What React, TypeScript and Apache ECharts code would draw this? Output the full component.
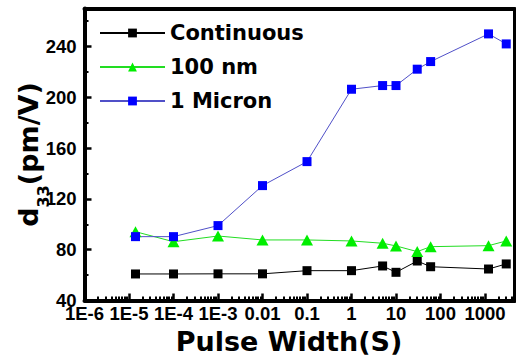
import React, { useEffect, useRef } from 'react';
import * as echarts from 'echarts';

const pulseWidths = [1.4e-5, 1e-4, 1e-3, 0.01, 0.1, 1, 5, 10, 30, 60, 1200, 3000];
const continuous = [60.9, 60.9, 61, 61, 63.5, 63.5, 67.2, 62.2, 71.1, 66.6, 64.8, 68.8];
const nm100 = [94.2, 86.3, 90.8, 87.7, 87.7, 86.9, 85.1, 83, 78.5, 82.4, 83.2, 86.9];
const micron1 = [90.3, 90.3, 99, 130.5, 149.4, 206.4, 209.3, 209.3, 222.2, 228.2, 250, 242.1];

const xTickValues = [1e-6, 1e-5, 1e-4, 1e-3, 0.01, 0.1, 1, 10, 100, 1000];
const xTickLabels = ['1E-6', '1E-5', '1E-4', '1E-3', '0.01', '0.1', '1', '10', '100', '1000'];
const yTickValues = [40, 80, 120, 160, 200, 240];
const yMinorValues = [60, 100, 140, 180, 220, 260];

const X_MIN = 1e-6;
const X_MAX = 4600;
const Y_MIN = 40;
const Y_MAX = 270;

const xMinorValues: number[] = [];
for (let d = -6; d <= 3; d++) {
  for (let m = 2; m <= 9; m++) {
    const v = Number((m * Math.pow(10, d)).toPrecision(6));
    if (v < X_MAX) xMinorValues.push(v);
  }
}

const pair = (ys: number[]) => pulseWidths.map((x, i) => [x, ys[i]]);

const tickFont = { fontFamily: 'Liberation Sans', fontWeight: 'bold' as const, fontSize: 18.5, color: '#000' };
const titleFont = { fontFamily: 'DejaVu Sans', fontWeight: 'bold' as const, color: '#000' };

export default function App() {
  const ref = useRef<HTMLDivElement>(null);
  useEffect(() => {
    document.body.style.margin = '0';
    const chart = echarts.init(ref.current!, null, { renderer: 'svg' });
    chart.setOption({
      animation: false,
      backgroundColor: '#fff',
      grid: { left: 84.5, right: 1.5, top: 8.5, bottom: 62.5, containLabel: false, outerBoundsMode: 'none' },
      legend: {
        orient: 'vertical',
        left: 94,
        top: 17,
        itemWidth: 65,
        itemHeight: 11,
        itemGap: 12,
        data: ['Continuous', '100 nm', '1 Micron'],
        textStyle: { ...titleFont, fontSize: 21, lineHeight: 22 },
      },
      xAxis: [
        {
          type: 'log',
          logBase: 10,
          min: X_MIN,
          max: X_MAX,
          position: 'bottom',
          axisLine: { show: true, lineStyle: { color: '#000', width: 4 } },
          axisTick: { show: true, inside: true, length: 7, lineStyle: { color: '#000', width: 2.5 }, customValues: xTickValues },
          axisLabel: {
            ...tickFont,
            margin: 3,
            customValues: xTickValues,
            formatter: (v: number) => {
              const idx = Math.round(Math.log10(v)) + 6;
              return xTickLabels[idx] ?? '';
            },
          },
          splitLine: { show: false },
          minorTick: { show: false },
          name: 'Pulse Width(S)',
          nameLocation: 'middle',
          nameGap: 27,
          nameMoveOverlap: false,
          nameTextStyle: { ...titleFont, fontSize: 27, padding: [0, 21, 0, 0] },
        },
        {
          type: 'log',
          logBase: 10,
          min: X_MIN,
          max: X_MAX,
          position: 'bottom',
          axisLine: { show: false },
          axisTick: { show: true, inside: true, length: 4, lineStyle: { color: '#000', width: 2 }, customValues: xMinorValues },
          axisLabel: { show: false },
          splitLine: { show: false },
        },
        {
          type: 'value',
          min: 0,
          max: 1,
          position: 'top',
          axisLine: { show: true, lineStyle: { color: '#000', width: 4 } },
          axisTick: { show: false },
          axisLabel: { show: false },
          splitLine: { show: false },
        },
      ],
      yAxis: [
        {
          type: 'value',
          min: Y_MIN,
          max: Y_MAX,
          position: 'left',
          axisLine: { show: true, lineStyle: { color: '#000', width: 4 } },
          axisTick: { show: true, inside: true, length: 7, lineStyle: { color: '#000', width: 2.5 }, customValues: yTickValues },
          axisLabel: { ...tickFont, margin: 8, customValues: yTickValues },
          splitLine: { show: false },
          name: '{a|d}{b|33}{a|(pm/V)}',
          nameLocation: 'middle',
          nameGap: 40,
          nameMoveOverlap: false,
          nameTextStyle: {
            rich: {
              a: { ...titleFont, fontSize: 27, lineHeight: 30, verticalAlign: 'top' },
              b: { ...titleFont, fontSize: 16, lineHeight: 16, verticalAlign: 'top', padding: [21, 0, 0, 0] },
            },
          },
        },
        {
          type: 'value',
          min: Y_MIN,
          max: Y_MAX,
          position: 'left',
          axisLine: { show: false },
          axisTick: { show: true, inside: true, length: 4, lineStyle: { color: '#000', width: 2 }, customValues: yMinorValues },
          axisLabel: { show: false },
          splitLine: { show: false },
        },
        {
          type: 'value',
          min: 0,
          max: 1,
          position: 'right',
          axisLine: { show: true, lineStyle: { color: '#000', width: 3 } },
          axisTick: { show: false },
          axisLabel: { show: false },
          splitLine: { show: false },
        },
      ],
      series: [
        {
          name: 'Continuous',
          type: 'line',
          xAxisIndex: 0,
          yAxisIndex: 0,
          data: pair(continuous),
          symbol: 'rect',
          symbolSize: 9,
          itemStyle: { color: '#000' },
          lineStyle: { color: '#000', width: 1 },
        },
        {
          name: '100 nm',
          type: 'line',
          xAxisIndex: 0,
          yAxisIndex: 0,
          data: pair(nm100),
          symbol: 'triangle',
          symbolSize: [12, 11],
          itemStyle: { color: '#00ee00' },
          lineStyle: { color: '#22dd22', width: 1 },
        },
        {
          name: '1 Micron',
          type: 'line',
          xAxisIndex: 0,
          yAxisIndex: 0,
          data: pair(micron1),
          symbol: 'rect',
          symbolSize: 9,
          itemStyle: { color: '#0000ff' },
          lineStyle: { color: '#5050c8', width: 1 },
        },
      ],
    });
    return () => chart.dispose();
  }, []);
  return <div ref={ref} style={{ width: 516, height: 363, background: '#fff' }} />;
}
